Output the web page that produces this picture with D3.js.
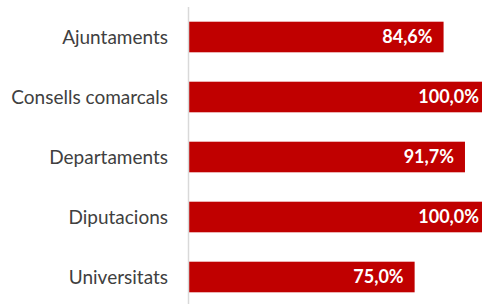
<!DOCTYPE html>
<html>
<head>
<meta charset="utf-8">
<script src="https://cdn.jsdelivr.net/npm/d3@7"></script>
<style>
  body { margin: 0; background: #fff; }
  svg { display: block; }
</style>
</head>
<body>
<div id="chart"></div>
<script>
const categories = ["Ajuntaments", "Consells comarcals", "Departaments", "Diputacions", "Universitats"];
const values = [84.6, 100.0, 91.7, 100.0, 75.0];

const width = 482;
const height = 304;
const axisX = 188.5;

const svg = d3.select('#chart')
  .append('svg')
  .attr('width', width)
  .attr('height', height);

// 100% lands a little past the right edge, as in the original
const x = d3.scaleLinear()
  .domain([0, 100])
  .range([axisX, axisX + 301.5]);

const y = d3.scaleBand()
  .domain(categories)
  .range([7, 307])
  .paddingInner(0.49)
  .paddingOuter(0.245);

const fmt = v => v.toFixed(1).replace('.', ',') + '%';

svg.selectAll('rect.bar')
  .data(values)
  .enter()
  .append('rect')
  .attr('class', 'bar')
  .attr('x', x(0))
  .attr('y', (d, i) => y(categories[i]))
  .attr('width', d => x(d) - x(0))
  .attr('height', y.bandwidth())
  .attr('fill', '#c00000');

// vertical category axis line
svg.append('line')
  .attr('x1', axisX).attr('x2', axisX)
  .attr('y1', 7).attr('y2', height)
  .attr('stroke', '#d9d9d9')
  .attr('stroke-width', 1.5);

svg.selectAll('text.cat')
  .data(categories)
  .enter()
  .append('text')
  .attr('class', 'cat')
  .attr('x', 168)
  .attr('y', d => y(d) + y.bandwidth() / 2)
  .attr('dy', '0.35em')
  .attr('text-anchor', 'end')
  .style('font-family', 'Lato, sans-serif')
  .style('font-size', '19px')
  .style('fill', '#404040')
  .text(d => d);

svg.selectAll('text.val')
  .data(values)
  .enter()
  .append('text')
  .attr('class', 'val')
  .attr('x', d => x(d) - 11)
  .attr('y', (d, i) => y(categories[i]) + y.bandwidth() / 2)
  .attr('dy', '0.36em')
  .attr('text-anchor', 'end')
  .style('font-family', 'Lato, sans-serif')
  .style('font-weight', 'bold')
  .style('font-size', '18px')
  .style('fill', '#fff')
  .text(fmt);
</script>
</body>
</html>
